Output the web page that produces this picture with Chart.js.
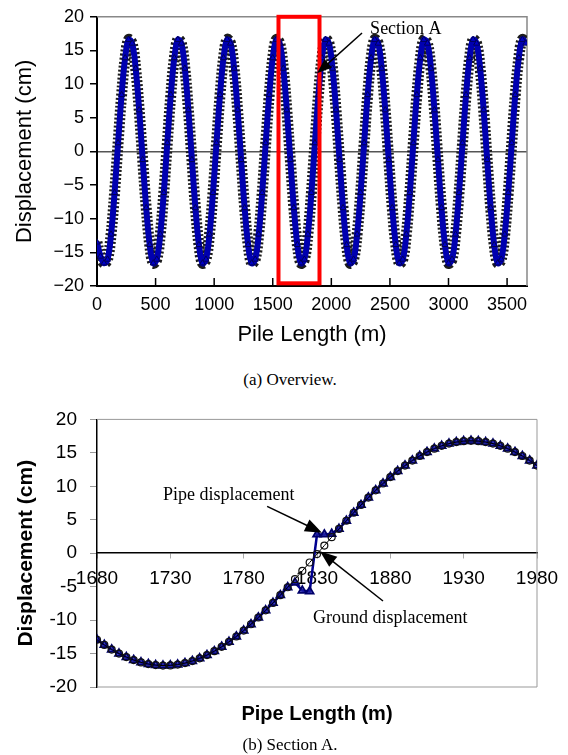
<!DOCTYPE html>
<html>
<head>
<meta charset="utf-8">
<script src="https://cdn.jsdelivr.net/npm/chart.js@4.4.1/dist/chart.umd.min.js"></script>
<style>
  body { margin: 0; width: 568px; height: 755px; position: relative; background: #fff; overflow: hidden; }
  canvas { position: absolute; left: 0; }
  .cap { position: absolute; left: 0; width: 580px; text-align: center; font: 17px "Liberation Serif", "Times New Roman", serif; line-height: 20px; color: #000; }
</style>
</head>
<body>
<canvas id="overview" width="568" height="350" style="top:0"></canvas>
<div class="cap" style="top:370px">(a) Overview.</div>
<canvas id="section" width="568" height="360" style="top:395px"></canvas>
<div class="cap" style="top:735px">(b) Section A.</div>
<script>
// (a) overview: pile length (m) and displacement (cm), read every 30 m
const overviewX = [
  0, 30, 60, 90, 120, 150, 180, 210, 240, 270, 300, 330, 360, 390,
  420, 450, 480, 510, 540, 570, 600, 630, 660, 690, 720, 750, 780, 810,
  840, 870, 900, 930, 960, 990, 1020, 1050, 1080, 1110, 1140, 1170, 1200, 1230,
  1260, 1290, 1320, 1350, 1380, 1410, 1440, 1470, 1500, 1530, 1560, 1590, 1620, 1650,
  1680, 1710, 1740, 1770, 1800, 1830, 1860, 1890, 1920, 1950, 1980, 2010, 2040, 2070,
  2100, 2130, 2160, 2190, 2220, 2250, 2280, 2310, 2340, 2370, 2400, 2430, 2460, 2490,
  2520, 2550, 2580, 2610, 2640, 2670, 2700, 2730, 2760, 2790, 2820, 2850, 2880, 2910,
  2940, 2970, 3000, 3030, 3060, 3090, 3120, 3150, 3180, 3210, 3240, 3270, 3300, 3330,
  3360, 3390, 3420, 3450, 3480, 3510, 3540, 3570, 3600, 3630, 3660
];
const overviewGround = [
  -13.5, -15.6, -16.61, -16.05, -12.32, -6.14, 1.25, 8.4, 13.88, 16.61, 16.05, 12.32, 6.14, -1.25,
  -8.4, -13.88, -16.61, -16.05, -12.32, -6.14, 1.25, 8.4, 13.88, 16.61, 16.05, 12.32, 6.14, -1.25,
  -8.4, -13.88, -16.61, -16.05, -12.32, -6.14, 1.25, 8.4, 13.88, 16.61, 16.05, 12.32, 6.14, -1.25,
  -8.4, -13.88, -16.61, -16.05, -12.32, -6.14, 1.25, 8.4, 13.88, 16.61, 16.05, 12.32, 6.14, -1.25,
  -8.4, -13.88, -16.61, -16.05, -12.32, -6.14, 1.25, 8.4, 13.88, 16.61, 16.05, 12.32, 6.14, -1.25,
  -8.4, -13.88, -16.61, -16.05, -12.32, -6.14, 1.25, 8.4, 13.88, 16.61, 16.05, 12.32, 6.14, -1.25,
  -8.4, -13.88, -16.61, -16.05, -12.32, -6.14, 1.25, 8.4, 13.88, 16.61, 16.05, 12.32, 6.14, -1.25,
  -8.4, -13.88, -16.61, -16.05, -12.32, -6.14, 1.25, 8.4, 13.88, 16.61, 16.05, 12.32, 6.14, -1.25,
  -8.4, -13.88, -16.61, -16.05, -12.32, -6.14, 1.25, 8.4, 13.88, 16.61, 16.05
];
// at this scale the pipe sits on the ground curve
const overviewPipe = overviewGround;
const overviewTicks = [0, 500, 1000, 1500, 2000, 2500, 3000, 3500];

// (b) section A, every 5 m
const sectionX = [
  1680, 1685, 1690, 1695, 1700, 1705, 1710, 1715, 1720, 1725,
  1730, 1735, 1740, 1745, 1750, 1755, 1760, 1765, 1770, 1775,
  1780, 1785, 1790, 1795, 1800, 1805, 1810, 1815, 1820, 1825,
  1830, 1835, 1840, 1845, 1850, 1855, 1860, 1865, 1870, 1875,
  1880, 1885, 1890, 1895, 1900, 1905, 1910, 1915, 1920, 1925,
  1930, 1935, 1940, 1945, 1950, 1955, 1960, 1965, 1970, 1975, 1980
];
const groundSection = [
  -12.94, -13.71, -14.40, -15.01, -15.53, -15.97, -16.32, -16.57, -16.73, -16.80,
  -16.77, -16.65, -16.43, -16.12, -15.72, -15.23, -14.65, -13.99, -13.25, -12.45,
  -11.57, -10.62, -9.61, -8.54, -7.43, -6.28, -5.09, -3.88, -2.64, -1.39,
  -0.13, 1.14, 2.39, 3.63, 4.85, 6.05, 7.21, 8.32, 9.40, 10.42,
  11.38, 12.27, 13.10, 13.85, 14.53, 15.12, 15.63, 16.05, 16.38, 16.61,
  16.75, 16.80, 16.75, 16.61, 16.38, 16.05, 15.63, 15.12, 14.53, 13.85, 13.10
];
const pipeSection = [
  -12.94, -13.71, -14.40, -15.01, -15.53, -15.97, -16.32, -16.57, -16.73, -16.80,
  -16.77, -16.65, -16.43, -16.12, -15.72, -15.23, -14.65, -13.99, -13.25, -12.45,
  -11.57, -10.62, -9.61, -8.54, -7.43, -6.28, -5.09, -4.4, -5.6, -5.7,
  2.8, 2.8, 2.9, 3.63, 4.85, 6.05, 7.21, 8.32, 9.40, 10.42,
  11.38, 12.27, 13.10, 13.85, 14.53, 15.12, 15.63, 16.05, 16.38, 16.61,
  16.75, 16.80, 16.75, 16.61, 16.38, 16.05, 15.63, 15.12, 14.53, 13.85, 13.10
];

Chart.defaults.font.family = '"Liberation Sans", Arial, sans-serif';
Chart.defaults.color = '#000';

function drawArrow(ctx, x1, y1, x2, y2, head, half) {
  const a = Math.atan2(y2 - y1, x2 - x1);
  ctx.strokeStyle = '#000';
  ctx.fillStyle = '#000';
  ctx.lineWidth = 1.5;
  ctx.beginPath();
  ctx.moveTo(x1, y1);
  ctx.lineTo(x2 - Math.cos(a) * head * 0.7, y2 - Math.sin(a) * head * 0.7);
  ctx.stroke();
  ctx.beginPath();
  ctx.moveTo(x2, y2);
  ctx.lineTo(x2 - head * Math.cos(a) + half * Math.sin(a), y2 - head * Math.sin(a) - half * Math.cos(a));
  ctx.lineTo(x2 - head * Math.cos(a) - half * Math.sin(a), y2 - head * Math.sin(a) + half * Math.cos(a));
  ctx.closePath();
  ctx.fill();
}

// grey plot frame + inward x ticks
const frame = {
  id: 'frame',
  beforeDatasetsDraw(chart, args, opts) {
    const { ctx, chartArea: c } = chart;
    ctx.save();
    ctx.strokeStyle = opts.color;
    ctx.lineWidth = opts.width;
    ctx.beginPath();
    ctx.moveTo(c.left, c.top);
    ctx.lineTo(c.right, c.top);
    ctx.lineTo(c.right, c.bottom);
    if (opts.bottom) ctx.lineTo(c.left, c.bottom);
    ctx.stroke();
    if (opts.innerTicks) {
      const xs = chart.scales.x;
      ctx.strokeStyle = '#000';
      ctx.lineWidth = 1.5;
      xs.ticks.forEach(t => {
        const px = xs.getPixelForValue(t.value);
        ctx.beginPath();
        ctx.moveTo(px, c.bottom);
        ctx.lineTo(px, c.bottom - opts.innerTicks);
        ctx.stroke();
      });
    }
    ctx.restore();
  }
};

// text labels, arrows and the section box, placed in data units
const notes = {
  id: 'notes',
  afterDatasetsDraw(chart, args, opts) {
    const { ctx } = chart;
    const px = v => chart.scales.x.getPixelForValue(v);
    const py = v => chart.scales.y.getPixelForValue(v);
    ctx.save();
    if (opts.box) {
      const b = opts.box;
      ctx.strokeStyle = b.color;
      ctx.lineWidth = b.width;
      ctx.strokeRect(px(b.x0), py(b.y1), px(b.x1) - px(b.x0), py(b.y0) - py(b.y1));
    }
    (opts.arrows || []).forEach(a => drawArrow(ctx, px(a.x1), py(a.y1), px(a.x2), py(a.y2), a.head, a.half));
    ctx.font = opts.font;
    ctx.fillStyle = '#000';
    ctx.textBaseline = 'middle';
    (opts.labels || []).forEach(l => ctx.fillText(l.text, px(l.x), py(l.y)));
    ctx.restore();
  }
};

new Chart(document.getElementById('overview'), {
  type: 'line',
  data: {
    datasets: [
      {
        label: 'Ground displacement',
        data: overviewX.map((x, i) => ({ x, y: overviewGround[i] })),
        borderColor: '#1c1c1c',
        borderWidth: 11,
        borderDash: [2, 2],
        tension: 0.4,
        pointRadius: 0,
        order: 2
      },
      {
        label: 'Pipe displacement',
        data: overviewX.map((x, i) => ({ x, y: overviewPipe[i] })),
        borderColor: '#0000b0',
        borderWidth: 6,
        tension: 0.4,
        pointStyle: 'triangle',
        pointRadius: 3.5,
        pointBackgroundColor: '#0000c8',
        pointBorderColor: '#00005a',
        pointBorderWidth: 1,
        order: 1
      }
    ]
  },
  options: {
    responsive: false,
    animation: false,
    layout: { padding: { top: 15, right: 41, left: 0, bottom: 0 } },
    plugins: {
      legend: { display: false },
      tooltip: { enabled: false },
      frame: { color: '#888', width: 1.5, bottom: false, innerTicks: 8 },
      notes: {
        font: '18px "Liberation Serif", "Times New Roman", serif',
        box: { x0: 1549, x1: 1899, y0: -19.6, y1: 20.0, color: '#ff0000', width: 4 },
        arrows: [{ x1: 2262, y1: 17.6, x2: 1878, y2: 11.6, head: 15, half: 5.5 }],
        labels: [{ text: 'Section A', x: 2331, y: 18.1 }]
      }
    },
    scales: {
      x: {
        type: 'linear',
        min: 0,
        max: 3670,
        afterBuildTicks: s => { s.ticks = overviewTicks.map(v => ({ value: v })); },
        afterFit: s => { s.height = 64; },
        ticks: { font: { size: 18 }, padding: 8, maxRotation: 0, callback: v => String(v) },
        grid: { display: false, drawTicks: false },
        border: { color: '#000', width: 2 },
        title: { display: true, text: 'Pile Length (m)', font: { size: 22 }, padding: { top: 0, bottom: 2 } }
      },
      y: {
        min: -20,
        max: 20,
        afterFit: s => { s.width = 97; },
        ticks: {
          stepSize: 5,
          font: { size: 18 },
          padding: 6,
          callback: v => (v < 0 ? '\u2212' + Math.abs(v) : String(v))
        },
        grid: {
          color: c => (c.tick && c.tick.value === 0 ? '#555' : 'rgba(0,0,0,0)'),
          lineWidth: 1.5,
          tickLength: 7,
          tickColor: '#000'
        },
        border: { color: '#000', width: 2 },
        title: { display: true, text: 'Displacement (cm)', font: { size: 22 }, padding: { top: 12, bottom: 0 } }
      }
    }
  },
  plugins: [frame, notes]
});

new Chart(document.getElementById('section'), {
  type: 'line',
  data: {
    datasets: [
      {
        label: 'Ground displacement',
        data: sectionX.map((x, i) => ({ x, y: groundSection[i] })),
        borderColor: '#000',
        borderWidth: 1,
        pointStyle: 'circle',
        pointRadius: 3.5,
        pointBackgroundColor: 'rgba(255,255,255,0)',
        pointBorderColor: '#111',
        pointBorderWidth: 1.2,
        order: 1
      },
      {
        label: 'Pipe displacement',
        data: sectionX.map((x, i) => ({ x, y: pipeSection[i] })),
        borderColor: '#000090',
        borderWidth: 2.5,
        pointStyle: 'triangle',
        pointRadius: 4.5,
        pointBackgroundColor: 'rgba(30,30,170,0.75)',
        pointBorderColor: '#00006a',
        pointBorderWidth: 1.8,
        order: 2
      }
    ]
  },
  options: {
    responsive: false,
    animation: false,
    layout: { padding: { top: 19, right: 31, left: 0, bottom: 0 } },
    plugins: {
      legend: { display: false },
      tooltip: { enabled: false },
      frame: { color: '#999', width: 1, bottom: true, innerTicks: 0 },
      notes: {
        font: '18px "Liberation Serif", "Times New Roman", serif',
        arrows: [
          { x1: 1796, y1: 7.0, x2: 1833.4, y2: 3.07, head: 17, half: 6.5 },
          { x1: 1875, y1: -7.15, x2: 1832, y2: 0.3, head: 17, half: 6.5 }
        ],
        labels: [
          { text: 'Pipe displacement', x: 1725, y: 8.6 },
          { text: 'Ground displacement', x: 1827.3, y: -9.8 }
        ]
      }
    },
    scales: {
      x: {
        type: 'linear',
        position: { y: 0 },
        min: 1680,
        max: 1980,
        ticks: { stepSize: 50, font: { size: 19 }, padding: 9, maxRotation: 0, callback: v => String(v) },
        grid: { drawOnChartArea: false, tickLength: 5, tickColor: '#aaa' },
        border: { color: '#000', width: 1.5 }
      },
      x2: {
        type: 'linear',
        position: 'bottom',
        min: 1680,
        max: 1980,
        afterFit: s => { s.height = 68; },
        ticks: { display: false },
        grid: { display: false, drawTicks: false },
        border: { display: false },
        title: { display: true, text: 'Pipe Length (m)', font: { size: 20, weight: 'bold' }, padding: { top: 0, bottom: 29 } }
      },
      y: {
        min: -20,
        max: 20,
        afterFit: s => { s.width = 97; },
        ticks: { stepSize: 5, font: { size: 19 }, padding: 13, callback: v => String(v) },
        grid: { drawOnChartArea: false, tickLength: 7, tickColor: '#999' },
        border: { color: '#000', width: 1.5 },
        title: { display: true, text: 'Displacement (cm)', font: { size: 21, weight: 'bold' }, padding: { top: 14, bottom: 0 } }
      }
    }
  },
  plugins: [frame, notes]
});
</script>
</body>
</html>
